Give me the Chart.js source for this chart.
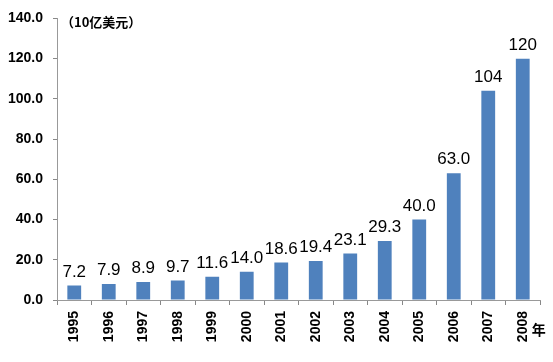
<!DOCTYPE html>
<html>
<head>
<meta charset="utf-8">
<script src="https://cdn.jsdelivr.net/npm/chart.js@4.4.1/dist/chart.umd.min.js"></script>
<style>
  html, body { margin: 0; padding: 0; background: #fff; }
  #wrap { width: 553px; height: 362px; position: relative; }
</style>
</head>
<body>
<div id="wrap"><canvas id="barChart"></canvas></div>
<script>
const years = ['1995','1996','1997','1998','1999','2000','2001','2002','2003','2004','2005','2006','2007','2008'];
const values = [7.2, 7.9, 8.9, 9.7, 11.6, 14.0, 18.6, 19.4, 23.1, 29.3, 40.0, 63.0, 104, 120];
const valueLabels = ['7.2','7.9','8.9','9.7','11.6','14.0','18.6','19.4','23.1','29.3','40.0','63.0','104','120'];
const unitLabel = '（10亿美元）';
const xUnit = '年';

const barLabels = {
    id: 'barLabels',
    afterDatasetsDraw(chart) {
        const ctx = chart.ctx;
        const meta = chart.getDatasetMeta(0);
        ctx.save();
        ctx.fillStyle = '#000';
        ctx.font = '17px "Liberation Sans", Arial, sans-serif';
        ctx.textAlign = 'center';
        ctx.textBaseline = 'bottom';
        meta.data.forEach((bar, i) => {
            ctx.fillText(valueLabels[i], bar.x, bar.y - 5);
        });
        // unit texts
        ctx.font = 'bold 13px "Noto Sans CJK SC", sans-serif';
        ctx.textAlign = 'left';
        ctx.textBaseline = 'middle';
        ctx.fillText(unitLabel, chart.chartArea.left + 4, chart.chartArea.top + 4);
        const last = meta.data[meta.data.length - 1];
        ctx.font = 'bold 14px "Noto Sans CJK SC", sans-serif';
        ctx.fillText(xUnit, last.x + 9, chart.chartArea.bottom + 30);
        ctx.restore();
    }
};

new Chart('barChart', {
    type: 'bar',
    data: {
        labels: years,
        datasets: [{
            data: values,
            backgroundColor: 'rgb(79,129,189)',
            barPercentage: 0.4,
            categoryPercentage: 1.0
        }]
    },
    options: {
        responsive: true,
        maintainAspectRatio: false,
        animation: false,
        layout: { padding: { top: 6, right: 13, left: 0, bottom: 0 } },
        plugins: {
            legend: { display: false },
            tooltip: { enabled: false }
        },
        scales: {
            x: {
                grid: { display: true, drawOnChartArea: false, offset: true, tickLength: 5, color: '#888' },
                border: { color: '#999', dash: [1, 1] },
                ticks: {
                    color: '#000',
                    font: { family: '"Liberation Sans", Arial', size: 14, weight: 'bold' },
                    minRotation: 90,
                    maxRotation: 90,
                    padding: 6
                },
                afterFit(scale) { scale.height = 62; }
            },
            y: {
                min: 0,
                max: 140,
                grid: { display: true, drawOnChartArea: false, tickLength: 4, color: '#888' },
                border: { color: '#999', dash: [1, 1] },
                ticks: {
                    stepSize: 20,
                    color: '#000',
                    font: { family: '"Liberation Sans", Arial', size: 14, weight: 'bold' },
                    padding: 10,
                    callback: v => v.toFixed(1)
                },
                afterFit(scale) { scale.width = 57; }
            }
        }
    },
    plugins: [barLabels]
});
</script>
</body>
</html>
